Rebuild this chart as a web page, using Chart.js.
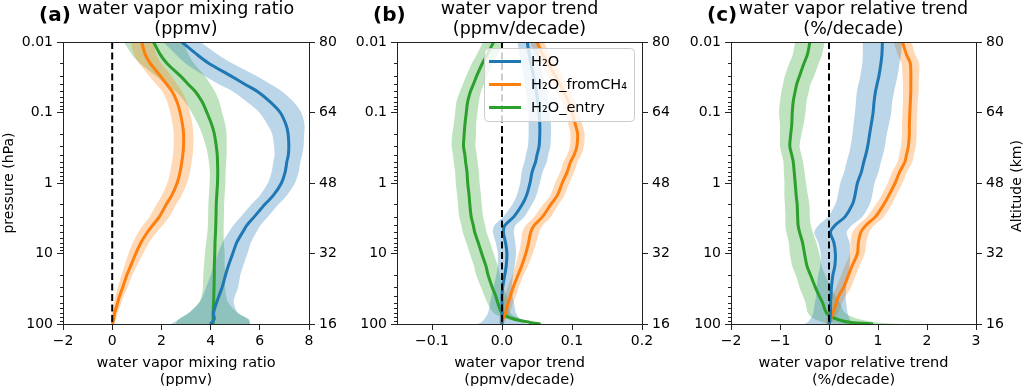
<!DOCTYPE html>
<html>
<head>
<meta charset="utf-8">
<script src="https://cdn.jsdelivr.net/npm/chart.js@4.4.0/dist/chart.umd.min.js"></script>
<style>
  body { margin: 0; background: #fff; }
  #wrap { position: relative; width: 1024px; height: 386px; overflow: hidden; }
  #wrap canvas { position: absolute; left: 0; top: 0; }
</style>
</head>
<body>
<div id="wrap">
  <canvas id="panelA" width="1024" height="386"></canvas>
  <canvas id="panelB" width="1024" height="386"></canvas>
  <canvas id="panelC" width="1024" height="386"></canvas>
</div>
<script>
// pressure levels (hPa), bottom to top
const pressure = [100, 95, 85, 70, 50, 40, 30, 20, 15, 10, 7, 5, 4, 3, 2, 1.5, 1, 0.7, 0.5, 0.4, 0.3, 0.2, 0.15, 0.1, 0.07, 0.05, 0.04, 0.03, 0.02, 0.015, 0.01];
const pressureTicks = [0.01, 0.1, 1, 10, 100];
const pressureTickLabels = ['0.01', '0.1', '1', '10', '100'];
const altMin = 16, altMax = 80, altStep = 16;

const seriesNames = ['H₂O', 'H₂O_fromCH₄', 'H₂O_entry'];
const seriesColors = ['#1f77b4', '#ff7f0e', '#2ca02c'];
const bandColors = ['rgba(31,119,180,0.3)', 'rgba(255,127,14,0.3)', 'rgba(44,160,44,0.3)'];

// (a) mixing ratio, ppmv  (value and half width of shading)
const mixH2O = [3.98, 4.05, 4.15, 4.12, 4.24, 4.34, 4.47, 4.61, 4.72, 4.9, 5.06, 5.3, 5.47, 5.78, 6.21, 6.55, 6.88, 7.03, 7.1, 7.16, 7.18, 7.15, 7.07, 6.83, 6.41, 5.89, 5.41, 4.8, 3.92, 3.44, 2.83];
const mixH2OErr = [1.6, 1.55, 1.4, 1.0, 0.7, 0.65, 0.65, 0.6, 0.6, 0.6, 0.58, 0.56, 0.55, 0.55, 0.55, 0.55, 0.55, 0.55, 0.55, 0.56, 0.6, 0.65, 0.75, 0.85, 0.95, 1.0, 1.05, 1.05, 0.95, 0.85, 0.75];
const mixCH4 = [0.0, 0.03, 0.06, 0.1, 0.22, 0.3, 0.43, 0.6, 0.75, 0.96, 1.17, 1.43, 1.64, 1.92, 2.2, 2.42, 2.64, 2.76, 2.83, 2.87, 2.9, 2.9, 2.86, 2.76, 2.63, 2.43, 2.22, 1.95, 1.54, 1.34, 1.2];
const mixCH4Err = [0.05, 0.08, 0.1, 0.12, 0.15, 0.17, 0.2, 0.22, 0.25, 0.3, 0.33, 0.37, 0.4, 0.4, 0.4, 0.4, 0.4, 0.4, 0.4, 0.4, 0.4, 0.4, 0.4, 0.4, 0.4, 0.4, 0.42, 0.45, 0.45, 0.45, 0.45];
const mixEntry = [4.1, 4.1, 4.1, 4.1, 4.12, 4.13, 4.14, 4.15, 4.15, 4.17, 4.18, 4.2, 4.21, 4.22, 4.23, 4.25, 4.28, 4.29, 4.28, 4.27, 4.23, 4.15, 4.05, 3.85, 3.65, 3.37, 3.1, 2.76, 2.22, 1.95, 1.68];
const mixEntryErr = [1.5, 1.5, 1.4, 1.0, 0.6, 0.5, 0.45, 0.45, 0.42, 0.4, 0.36, 0.33, 0.32, 0.32, 0.32, 0.32, 0.32, 0.32, 0.35, 0.38, 0.42, 0.5, 0.55, 0.62, 0.7, 0.8, 0.9, 1.0, 1.1, 1.15, 1.2];

// (b) trend, ppmv/decade
const trendH2O = [0.0, 0.0, 0.0, 0.0, 0.0, 0.0, 0.001, 0.004, 0.006, 0.007, 0.005, 0.002, 0.004, 0.017, 0.029, 0.035, 0.04, 0.043, 0.048, 0.05, 0.053, 0.054, 0.054, 0.053, 0.051, 0.049, 0.047, 0.045, 0.041, 0.039, 0.036];
const trendH2OErr = [0.035, 0.03, 0.025, 0.02, 0.017, 0.015, 0.013, 0.012, 0.012, 0.013, 0.014, 0.015, 0.015, 0.015, 0.014, 0.014, 0.014, 0.015, 0.016, 0.016, 0.016, 0.016, 0.016, 0.015, 0.015, 0.015, 0.015, 0.014, 0.014, 0.014, 0.014];
const trendCH4 = [0.0, 0.0, 0.001, 0.005, 0.009, 0.012, 0.016, 0.023, 0.028, 0.034, 0.038, 0.041, 0.046, 0.058, 0.07, 0.079, 0.086, 0.093, 0.098, 0.103, 0.107, 0.108, 0.105, 0.1, 0.095, 0.088, 0.083, 0.076, 0.066, 0.058, 0.05];
const trendCH4Err = [0.003, 0.004, 0.005, 0.006, 0.007, 0.008, 0.008, 0.008, 0.009, 0.01, 0.011, 0.012, 0.012, 0.012, 0.011, 0.01, 0.01, 0.01, 0.01, 0.01, 0.01, 0.01, 0.01, 0.01, 0.01, 0.01, 0.01, 0.01, 0.01, 0.01, 0.01];
const trendEntry = [0.055, 0.04, 0.017, 0.0, -0.006, -0.009, -0.014, -0.02, -0.023, -0.029, -0.034, -0.039, -0.041, -0.044, -0.046, -0.047, -0.049, -0.05, -0.052, -0.053, -0.055, -0.054, -0.053, -0.051, -0.049, -0.045, -0.041, -0.036, -0.028, -0.021, -0.012];
const trendEntryErr = [0.006, 0.008, 0.01, 0.012, 0.015, 0.016, 0.016, 0.017, 0.017, 0.017, 0.017, 0.017, 0.017, 0.017, 0.017, 0.017, 0.017, 0.017, 0.017, 0.017, 0.017, 0.017, 0.016, 0.016, 0.016, 0.015, 0.015, 0.015, 0.015, 0.015, 0.015];

// (c) relative trend, %/decade
const relH2O = [0.0, 0.01, 0.02, 0.03, 0.03, 0.04, 0.05, 0.08, 0.12, 0.13, 0.1, 0.03, 0.12, 0.33, 0.48, 0.53, 0.58, 0.66, 0.71, 0.75, 0.79, 0.83, 0.86, 0.9, 0.92, 0.95, 0.98, 1.02, 1.06, 1.08, 1.09];
const relH2OErr = [0.5, 0.45, 0.4, 0.35, 0.32, 0.3, 0.3, 0.3, 0.3, 0.3, 0.32, 0.33, 0.34, 0.35, 0.35, 0.35, 0.35, 0.35, 0.35, 0.35, 0.35, 0.35, 0.36, 0.37, 0.37, 0.38, 0.38, 0.38, 0.38, 0.39, 0.4];
const relCH4 = [-0.03, 0.0, 0.03, 0.08, 0.15, 0.2, 0.3, 0.4, 0.47, 0.58, 0.6, 0.65, 0.75, 0.95, 1.12, 1.22, 1.35, 1.44, 1.55, 1.58, 1.62, 1.64, 1.64, 1.65, 1.66, 1.67, 1.67, 1.67, 1.66, 1.58, 1.5];
const relCH4Err = [0.05, 0.06, 0.08, 0.1, 0.12, 0.14, 0.15, 0.15, 0.15, 0.15, 0.16, 0.17, 0.17, 0.17, 0.16, 0.15, 0.15, 0.15, 0.15, 0.15, 0.15, 0.15, 0.15, 0.15, 0.15, 0.16, 0.16, 0.17, 0.18, 0.18, 0.18];
const relEntry = [0.9, 0.45, 0.15, -0.05, -0.13, -0.2, -0.28, -0.38, -0.45, -0.5, -0.54, -0.6, -0.63, -0.64, -0.65, -0.67, -0.69, -0.71, -0.73, -0.76, -0.8, -0.78, -0.76, -0.75, -0.73, -0.69, -0.66, -0.6, -0.51, -0.44, -0.39];
const relEntryErr = [0.6, 0.55, 0.45, 0.38, 0.35, 0.33, 0.32, 0.3, 0.3, 0.3, 0.28, 0.27, 0.26, 0.25, 0.25, 0.24, 0.22, 0.21, 0.2, 0.2, 0.2, 0.22, 0.24, 0.27, 0.27, 0.28, 0.28, 0.3, 0.3, 0.3, 0.3];

// axis ticks
const xTicksA = [-2, 0, 2, 4, 6, 8];
const xLabelsA = ['−2', '0', '2', '4', '6', '8'];
const xTicksB = [-0.1, 0, 0.1, 0.2];
const xLabelsB = ['−0.1', '0.0', '0.1', '0.2'];
const xTicksC = [-2, -1, 0, 1, 2, 3];
const xLabelsC = ['−2', '−1', '0', '1', '2', '3'];

const panelLetters = ['(a)', '(b)', '(c)'];
const panelTitles = [
  ['water vapor mixing ratio', '(ppmv)'],
  ['water vapor trend', '(ppmv/decade)'],
  ['water vapor relative trend', '(%/decade)']
];
const leftAxisTitle = 'pressure (hPa)';
const rightAxisTitle = 'Altitude (km)';

const FONT = "'DejaVu Sans', sans-serif";
const INK = '#222';

// frame, minor ticks, titles and legend
const decorPlugin = {
  id: 'decor',
  afterDraw(chart, args, opts) {
    const ctx = chart.ctx;
    const area = chart.chartArea;
    const yScale = chart.scales.y;
    const cx = (area.left + area.right) / 2;
    ctx.save();
    ctx.strokeStyle = INK;
    ctx.lineWidth = 1;
    // top spine
    ctx.beginPath();
    ctx.moveTo(area.left, Math.floor(area.top) + 0.5);
    ctx.lineTo(area.right, Math.floor(area.top) + 0.5);
    ctx.stroke();
    // minor log ticks on the left
    const lx = Math.floor(area.left) + 0.5;
    ctx.beginPath();
    for (let i = 0; i < pressureTicks.length - 1; i++) {
      for (let k = 2; k <= 9; k++) {
        const y = Math.round(yScale.getPixelForValue(pressureTicks[i] * k)) + 0.5;
        ctx.moveTo(lx - 3.5, y);
        ctx.lineTo(lx, y);
      }
    }
    ctx.stroke();

    ctx.fillStyle = '#000';
    ctx.textAlign = 'left';
    ctx.textBaseline = 'alphabetic';
    ctx.font = 'bold 20px ' + FONT;
    ctx.fillText(opts.letter, area.left - 24, 20.5);

    ctx.textAlign = 'center';
    ctx.font = '17.5px ' + FONT;
    opts.title.forEach((t, i) => ctx.fillText(t, cx, 13.5 + i * 20));

    ctx.font = '14.5px ' + FONT;
    opts.title.forEach((t, i) => ctx.fillText(t, cx, 366.5 + i * 17));

    const cy = (area.top + area.bottom) / 2;
    ctx.font = '14px ' + FONT;
    if (opts.leftTitle) {
      ctx.save();
      ctx.translate(13, cy);
      ctx.rotate(-Math.PI / 2);
      ctx.fillText(opts.leftTitle, 0, 0);
      ctx.restore();
    }
    if (opts.rightTitle) {
      ctx.save();
      ctx.translate(1020.5, cy + 3);
      ctx.rotate(-Math.PI / 2);
      ctx.fillText(opts.rightTitle, 0, 0);
      ctx.restore();
    }

    if (opts.legend) {
      const lines = chart.data.datasets.filter(d => d.isSeries);
      ctx.font = '14.5px ' + FONT;
      const textW = Math.max(...lines.map(d => ctx.measureText(d.label).width));
      const w = 5 + 32 + 10 + textW + 7;
      const h = 73;
      const x0 = area.right - 8 - w;
      const y0 = area.top + 6;
      ctx.beginPath();
      ctx.roundRect(x0 + 0.5, y0 + 0.5, w, h, 4);
      ctx.fillStyle = 'rgba(255,255,255,0.8)';
      ctx.fill();
      ctx.strokeStyle = '#cccccc';
      ctx.stroke();
      ctx.textAlign = 'left';
      ctx.textBaseline = 'middle';
      lines.forEach((d, i) => {
        const y = y0 + 13.5 + i * 23;
        ctx.strokeStyle = d.borderColor;
        ctx.lineWidth = 3;
        ctx.beginPath();
        ctx.moveTo(x0 + 5, y);
        ctx.lineTo(x0 + 37, y);
        ctx.stroke();
        ctx.fillStyle = '#000';
        ctx.fillText(d.label, x0 + 47, y + 1);
      });
    }
    ctx.restore();
  }
};

function makePanel(canvasId, p) {
  const datasets = [];
  p.series.forEach(([vals, err], i) => {
    datasets.push({
      data: pressure.map((pr, k) => ({ x: vals[k] - err[k], y: pr })),
      borderWidth: 0, borderColor: 'transparent', pointRadius: 0,
      fill: false, tension: 0.3, order: 2, indexAxis: 'y'
    });
    datasets.push({
      data: pressure.map((pr, k) => ({ x: vals[k] + err[k], y: pr })),
      borderWidth: 0, borderColor: 'transparent', pointRadius: 0,
      backgroundColor: bandColors[i],
      fill: '-1', tension: 0.3, order: 2, indexAxis: 'y'
    });
  });
  p.series.forEach(([vals], i) => {
    datasets.push({
      label: seriesNames[i], isSeries: true,
      data: pressure.map((pr, k) => ({ x: vals[k], y: pr })),
      borderColor: seriesColors[i], borderWidth: 3, pointRadius: 0,
      fill: false, tension: 0.3, order: 1, indexAxis: 'y'
    });
  });
  datasets.push({
    data: [{ x: 0, y: pressureTicks[0] }, { x: 0, y: pressureTicks[pressureTicks.length - 1] }],
    borderColor: '#000', borderWidth: 2, borderDash: [7, 3.5], pointRadius: 0,
    fill: false, order: 0, indexAxis: 'y'
  });

  const axisW = 60, axisR = 40, axisH = 60;
  const tickFont = { family: FONT, size: 14 };

  return new Chart(document.getElementById(canvasId), {
    type: 'line',
    data: { datasets },
    options: {
      indexAxis: 'y',
      responsive: false,
      animation: false,
      devicePixelRatio: 1,
      layout: {
        padding: { left: p.left - axisW, right: 1024 - p.right - axisR, top: 42, bottom: 386 - 324 - axisH }
      },
      scales: {
        x: {
          type: 'linear', position: 'bottom', min: p.xMin, max: p.xMax, bounds: 'data',
          afterBuildTicks: s => { s.ticks = p.xTicks.map(v => ({ value: v })); },
          afterFit: s => { s.height = axisH; },
          ticks: { callback: (v, i) => p.xLabels[i], font: tickFont, color: '#000', padding: 3, maxRotation: 0, autoSkip: false },
          grid: { display: true, drawOnChartArea: false, drawTicks: true, tickLength: 6, color: INK },
          border: { display: true, color: INK, width: 1 }
        },
        y: {
          type: 'logarithmic', position: 'left', reverse: true, min: 0.01, max: 100,
          afterBuildTicks: s => { s.ticks = pressureTicks.map(v => ({ value: v, major: true })); },
          afterFit: s => { s.width = axisW; },
          ticks: { callback: (v, i) => pressureTickLabels[i], font: tickFont, color: '#000', padding: 4, autoSkip: false },
          grid: { display: true, drawOnChartArea: false, drawTicks: true, tickLength: 6, color: INK },
          border: { display: true, color: INK, width: 1 }
        },
        y2: {
          type: 'linear', position: 'right', display: true, min: altMin, max: altMax,
          afterFit: s => { s.width = axisR; },
          ticks: { stepSize: altStep, font: tickFont, color: '#000', padding: 4 },
          grid: { display: true, drawOnChartArea: false, drawTicks: true, tickLength: 6, color: INK },
          border: { display: true, color: INK, width: 1 }
        }
      },
      plugins: {
        legend: { display: false },
        tooltip: { enabled: false },
        decor: p.decor
      }
    },
    plugins: [decorPlugin]
  });
}

makePanel('panelA', {
  left: 63, right: 309, xMin: -2, xMax: 8, xTicks: xTicksA, xLabels: xLabelsA,
  series: [[mixH2O, mixH2OErr], [mixCH4, mixCH4Err], [mixEntry, mixEntryErr]],
  decor: { letter: panelLetters[0], title: panelTitles[0], leftTitle: leftAxisTitle, rightTitle: null, legend: false }
});
makePanel('panelB', {
  left: 397, right: 642, xMin: -0.15, xMax: 0.2, xTicks: xTicksB, xLabels: xLabelsB,
  series: [[trendH2O, trendH2OErr], [trendCH4, trendCH4Err], [trendEntry, trendEntryErr]],
  decor: { letter: panelLetters[1], title: panelTitles[1], leftTitle: null, rightTitle: null, legend: true }
});
makePanel('panelC', {
  left: 731, right: 976, xMin: -2, xMax: 3, xTicks: xTicksC, xLabels: xLabelsC,
  series: [[relH2O, relH2OErr], [relCH4, relCH4Err], [relEntry, relEntryErr]],
  decor: { letter: panelLetters[2], title: panelTitles[2], leftTitle: null, rightTitle: rightAxisTitle, legend: false }
});
</script>
</body>
</html>
